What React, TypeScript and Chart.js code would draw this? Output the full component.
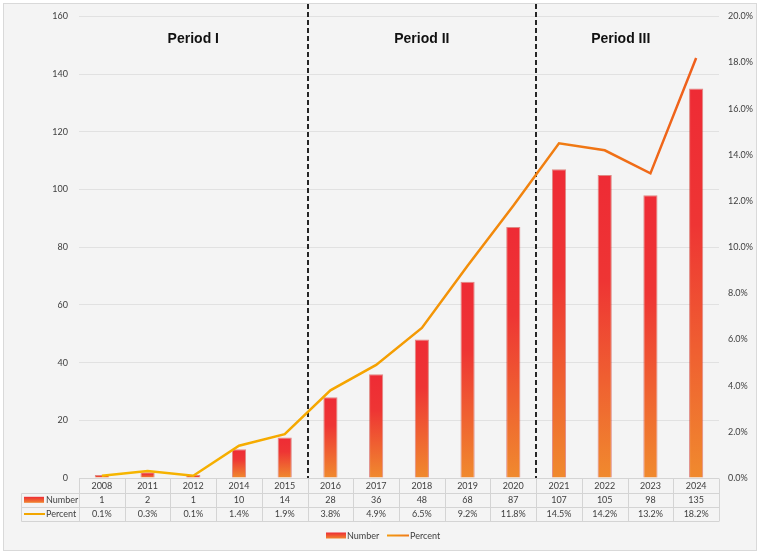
import React, { useEffect, useRef } from 'react';
import { Chart, registerables } from 'chart.js';

Chart.register(...registerables);

const years = ['2008', '2011', '2012', '2014', '2015', '2016', '2017', '2018', '2019', '2020', '2021', '2022', '2023', '2024'];
const numbers = [1, 2, 1, 10, 14, 28, 36, 48, 68, 87, 107, 105, 98, 135];
const percents = [0.1, 0.3, 0.1, 1.4, 1.9, 3.8, 4.9, 6.5, 9.2, 11.8, 14.5, 14.2, 13.2, 18.2];
const periodLabels = ['Period I', 'Period II', 'Period III'];
const periodCenters = [2, 7, 11.35];
const periodDividers = [4.5, 9.5];
const leftAxis = { min: 0, max: 160, step: 20 };
const rightAxis = { min: 0, max: 20, step: 2 };

const FONT = 'Lato, "Open Sans", sans-serif';
const TEXT = '#404040';

function catX(chart: any, idx: number) {
  const a = chart.chartArea;
  const w = (a.right - a.left) / years.length;
  return a.left + (idx + 0.5) * w;
}

const decorPlugin = {
  id: 'decor',
  beforeDraw(chart: any) {
    const ctx = chart.ctx;
    ctx.save();
    ctx.fillStyle = '#ffffff';
    ctx.fillRect(0, 0, chart.width, chart.height);
    ctx.fillStyle = '#f4f4f4';
    ctx.fillRect(3.5, 3.5, 753, 547);
    ctx.strokeStyle = '#d9d9d9';
    ctx.lineWidth = 1;
    ctx.strokeRect(3.5, 3.5, 753, 547);
    ctx.restore();
  },
  beforeDatasetsDraw(chart: any) {
    const ctx = chart.ctx;
    const a = chart.chartArea;
    const w = (a.right - a.left) / years.length;
    ctx.save();
    ctx.strokeStyle = '#262626';
    ctx.lineWidth = 2;
    ctx.setLineDash([5, 3]);
    periodDividers.forEach((d) => {
      const x = Math.round(a.left + (d + 0.5) * w);
      ctx.beginPath();
      ctx.moveTo(x, 4);
      ctx.lineTo(x, a.bottom);
      ctx.stroke();
    });
    ctx.setLineDash([]);
    ctx.fillStyle = '#111111';
    ctx.font = 'bold 14px "Liberation Sans", Arial, sans-serif';
    ctx.textAlign = 'center';
    ctx.textBaseline = 'middle';
    periodLabels.forEach((t, i) => {
      ctx.fillText(t, catX(chart, periodCenters[i]), 39);
    });
    ctx.restore();
  },
  afterDraw(chart: any) {
    const ctx = chart.ctx;
    const a = chart.chartArea;
    const n = years.length;
    const w = (a.right - a.left) / n;
    const top = a.bottom + 0.5;
    const rh = 14.2;
    const labelLeft = 21.5;
    ctx.save();
    ctx.strokeStyle = '#d4d4d4';
    ctx.lineWidth = 1;
    ctx.beginPath();
    ctx.moveTo(a.left, top);
    ctx.lineTo(a.right, top);
    for (let r = 1; r <= 3; r++) {
      const y = Math.round(top + r * rh) + 0.5;
      ctx.moveTo(labelLeft, y);
      ctx.lineTo(a.right, y);
    }
    for (let i = 0; i <= n; i++) {
      const x = Math.round(a.left + i * w) + 0.5;
      ctx.moveTo(x, top);
      ctx.lineTo(x, Math.round(top + 3 * rh) + 0.5);
    }
    ctx.moveTo(labelLeft, Math.round(top + rh) + 0.5);
    ctx.lineTo(labelLeft, Math.round(top + 3 * rh) + 0.5);
    ctx.stroke();

    ctx.fillStyle = TEXT;
    ctx.font = '9px ' + FONT;
    ctx.textAlign = 'center';
    ctx.textBaseline = 'middle';
    for (let i = 0; i < n; i++) {
      const cx = a.left + (i + 0.5) * w;
      ctx.fillText(years[i], cx, top + rh * 0.5 + 0.5);
      ctx.fillText(String(numbers[i]), cx, top + rh * 1.5 + 0.5);
      ctx.fillText(percents[i].toFixed(1) + '%', cx, top + rh * 2.5 + 0.5);
    }
    const ky1 = top + rh * 1.5;
    const g1 = ctx.createLinearGradient(0, ky1 - 3, 0, ky1 + 3);
    g1.addColorStop(0, '#ee2b35');
    g1.addColorStop(1, '#f0852f');
    ctx.fillStyle = g1;
    ctx.fillRect(24, ky1 - 3, 20, 6);
    ctx.strokeStyle = '#f2a600';
    ctx.lineWidth = 2;
    const ky2 = top + rh * 2.5;
    ctx.beginPath();
    ctx.moveTo(24, ky2);
    ctx.lineTo(45, ky2);
    ctx.stroke();
    ctx.fillStyle = TEXT;
    ctx.textAlign = 'left';
    ctx.fillText('Number', 46, ky1 + 0.5);
    ctx.fillText('Percent', 46, ky2 + 0.5);

    const ly = 535.5;
    const g2 = ctx.createLinearGradient(0, ly - 3, 0, ly + 3);
    g2.addColorStop(0, '#ee2b35');
    g2.addColorStop(1, '#f0852f');
    ctx.fillStyle = g2;
    ctx.fillRect(326, ly - 3, 20, 6);
    const g3 = ctx.createLinearGradient(387, 0, 409, 0);
    g3.addColorStop(0, '#f39a10');
    g3.addColorStop(1, '#f07a18');
    ctx.strokeStyle = g3;
    ctx.lineWidth = 2;
    ctx.beginPath();
    ctx.moveTo(387, ly);
    ctx.lineTo(409, ly);
    ctx.stroke();
    ctx.fillStyle = TEXT;
    ctx.fillText('Number', 347, ly + 0.5);
    ctx.fillText('Percent', 410, ly + 0.5);
    ctx.restore();
  },
};

export default function App() {
  const ref = useRef<HTMLCanvasElement | null>(null);
  useEffect(() => {
    document.body.style.margin = '0';
    const canvas = ref.current;
    if (!canvas) return;
    const chart = new Chart(canvas, {
      data: {
        labels: years,
        datasets: [
          {
            type: 'line',
            label: 'Percent',
            data: percents,
            yAxisID: 'y1',
            borderWidth: 2.5,
            pointRadius: 0,
            tension: 0,
            order: 0,
            borderColor: (c: any) => {
              const ch = c.chart;
              const a = ch.chartArea;
              if (!a || !isFinite(a.left) || !isFinite(a.right) || a.right <= a.left) return '#f39a10';
              const g = ch.ctx.createLinearGradient(a.left, 0, a.right, 0);
              g.addColorStop(0, '#f6b900');
              g.addColorStop(0.45, '#f5a300');
              g.addColorStop(0.75, '#f07c12');
              g.addColorStop(1, '#ef5a1e');
              return g;
            },
          },
          {
            type: 'bar',
            label: 'Number',
            data: numbers,
            yAxisID: 'y',
            order: 1,
            categoryPercentage: 1,
            barPercentage: 0.31,
            borderWidth: 1,
            borderColor: 'rgba(205,50,40,0.55)',
            backgroundColor: (c: any) => {
              const ch = c.chart;
              const ys = ch.scales && ch.scales.y;
              if (!ys || c.dataIndex === undefined) return '#ee5a30';
              const v = numbers[c.dataIndex];
              const yTop = ys.getPixelForValue(v);
              const yBase = ys.getPixelForValue(0);
              if (!isFinite(yTop) || !isFinite(yBase) || yBase - yTop < 0.5) return '#ee5a30';
              const g = ch.ctx.createLinearGradient(0, yTop, 0, yBase);
              g.addColorStop(0, '#ee2b35');
              g.addColorStop(0.35, '#ee3534');
              g.addColorStop(1, '#f08a2e');
              return g;
            },
          },
        ],
      } as any,
      options: {
        responsive: false,
        animation: false,
        events: [],
        layout: { padding: { top: 15, bottom: 76, left: 0, right: 0 } },
        plugins: { legend: { display: false }, tooltip: { enabled: false } },
        scales: {
          x: { display: false, offset: true },
          y: {
            position: 'left',
            min: leftAxis.min,
            max: leftAxis.max,
            ticks: { stepSize: leftAxis.step, padding: 11, color: TEXT, font: { family: FONT, size: 9 } },
            grid: { color: '#e1e1e1', drawTicks: false },
            border: { display: false },
            afterFit: (s: any) => { s.width = 79; },
          },
          y1: {
            position: 'right',
            min: rightAxis.min,
            max: rightAxis.max,
            ticks: {
              stepSize: rightAxis.step,
              padding: 9,
              color: TEXT,
              font: { family: FONT, size: 9 },
              callback: (v: any) => Number(v).toFixed(1) + '%',
            },
            grid: { display: false, drawTicks: false },
            border: { display: false },
            afterFit: (s: any) => { s.width = 41; },
          },
        },
      } as any,
      plugins: [decorPlugin],
    });
    return () => chart.destroy();
  }, []);
  return (
    <div style={{ width: 760, height: 554 }}>
      <canvas ref={ref} width={760} height={554} style={{ display: 'block' }} />
    </div>
  );
}
